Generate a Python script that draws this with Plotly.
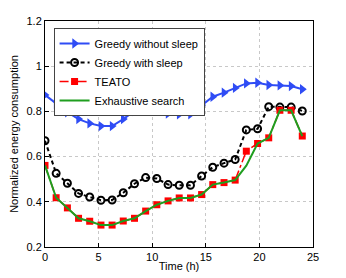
import plotly.graph_objects as go

hours = [0, 1.04, 2.09, 3.13, 4.17, 5.22, 6.26, 7.30, 8.35, 9.39, 10.43, 11.48,
         12.52, 13.57, 14.61, 15.65, 16.70, 17.74, 18.78, 19.83, 20.87, 21.91, 22.96, 24.0]

greedy_no_sleep = [0.873, 0.833, 0.796, 0.766, 0.747, 0.735, 0.735, 0.766, 0.802, 0.828, 0.821, 0.791,
                   0.787, 0.787, 0.828, 0.865, 0.883, 0.904, 0.924, 0.927, 0.917, 0.915, 0.912, 0.898]
greedy_sleep = [0.670, 0.526, 0.482, 0.437, 0.421, 0.407, 0.408, 0.440, 0.480, 0.507, 0.503, 0.476,
                0.473, 0.473, 0.514, 0.553, 0.571, 0.587, 0.718, 0.723, 0.821, 0.819, 0.819, 0.802]
teato = [0.561, 0.418, 0.373, 0.327, 0.314, 0.297, 0.297, 0.315, 0.327, 0.359, 0.387, 0.404,
         0.417, 0.417, 0.432, 0.476, 0.485, 0.496, 0.624, 0.658, 0.683, 0.805, 0.805, 0.691]
exhaustive = [0.561, 0.418, 0.373, 0.327, 0.314, 0.297, 0.297, 0.315, 0.327, 0.359, 0.387, 0.404,
              0.417, 0.417, 0.432, 0.476, 0.485, 0.496, 0.560, 0.658, 0.683, 0.805, 0.805, 0.691]

x_ticks = [0, 5, 10, 15, 20, 25]
y_ticks = [0.2, 0.4, 0.6, 0.8, 1.0, 1.2]
y_tick_labels = ["0.2", "0.4", "0.6", "0.8", "1", "1.2"]

fig = go.Figure()
fig.add_trace(go.Scatter(x=hours, y=greedy_no_sleep, name="Greedy without sleep", mode="lines+markers",
                         line=dict(color="#2f4cf5", width=2),
                         marker=dict(symbol="triangle-right", size=9, color="#2f4cf5")))
fig.add_trace(go.Scatter(x=hours, y=greedy_sleep, name="Greedy with sleep", mode="lines+markers",
                         line=dict(color="black", width=2, dash="4px,3px"),
                         marker=dict(symbol="circle-open", size=7, color="black", line=dict(width=2))))
fig.add_trace(go.Scatter(x=hours, y=teato, name="TEATO", mode="lines+markers",
                         line=dict(color="red", width=1.5, dash="dashdot"),
                         marker=dict(symbol="square", size=7, color="red")))
fig.add_trace(go.Scatter(x=hours, y=exhaustive, name="Exhaustive search", mode="lines",
                         line=dict(color="#1f9e1f", width=2)))

axis_common = dict(showline=True, linecolor="black", linewidth=1, mirror=True,
                   ticks="inside", ticklen=4, tickcolor="black",
                   showgrid=True, gridcolor="#c8c8c8", griddash="dot", gridwidth=1,
                   zeroline=False, tickfont=dict(size=11, color="black"), automargin=False)

# the page body adds an 8px offset; margins compensate so the plot area lands where the reference has it
fig.update_layout(
    width=346, height=278,
    margin=dict(l=37, r=41, t=13, b=39),
    paper_bgcolor="white", plot_bgcolor="white",
    font=dict(family="Liberation Sans, Arial, sans-serif", size=11, color="black"),
    xaxis=dict(range=[0, 25], tickvals=x_ticks, title=dict(text="Time (h)", standoff=0, font=dict(size=11)),
               **axis_common),
    yaxis=dict(range=[0.2, 1.2], tickvals=y_ticks, ticktext=y_tick_labels,
               title=dict(text="Normalized energy consumption", standoff=11, font=dict(size=11)),
               **axis_common),
    legend=dict(x=0.032, y=0.969, xanchor="left", yanchor="top", bgcolor="white",
                bordercolor="#444", borderwidth=1, font=dict(size=11), tracegroupgap=0,
                itemwidth=30),
    showlegend=True,
)

fig.write_html("out.html")
